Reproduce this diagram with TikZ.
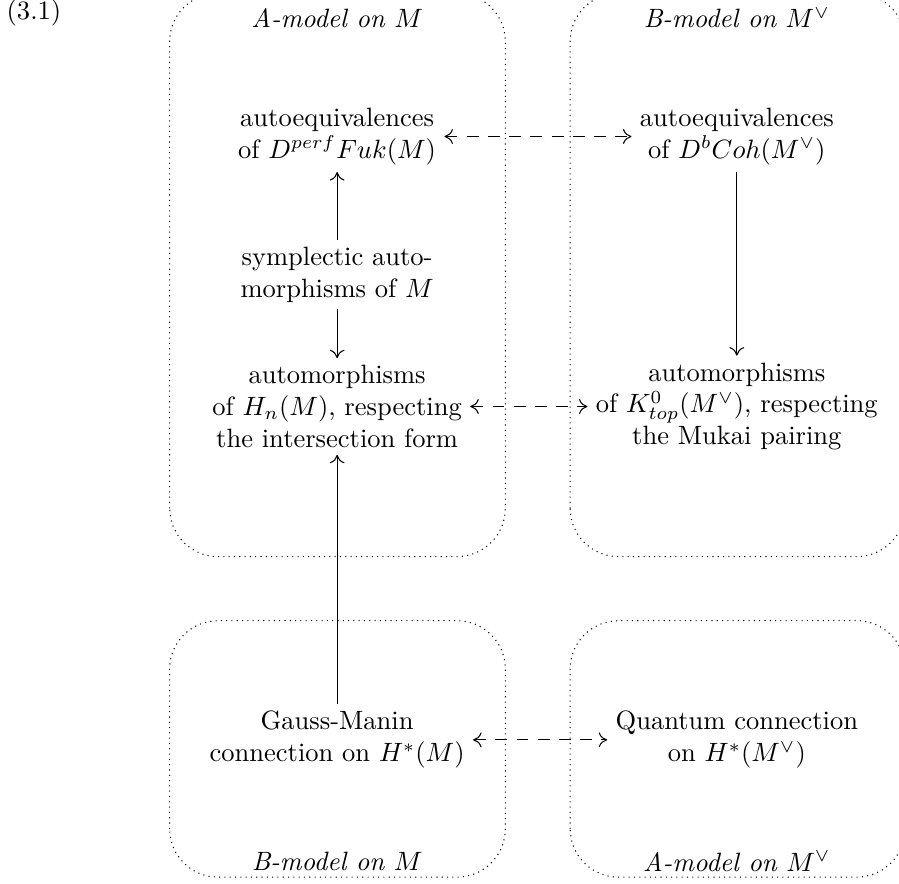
\documentclass[tikz,border=0pt]{standalone}
\usepackage{amsmath, amssymb}
\usetikzlibrary{arrows.meta}

\begin{document}
\begin{tikzpicture}[>={To[length=3.2pt,width=5.6pt]},
    item/.style={align=center, inner sep=2.5pt},
    model/.style={font=\itshape},
    region/.style={dash pattern=on 0.4pt off 1.6pt, rounded corners=0.64cm},
    dasharrow/.style={<->, dash pattern=on 4.5pt off 3.5pt, shorten <=0.5pt, shorten >=0.5pt}]
    \useasboundingbox (0,0) rectangle (11.92,11.72);

    % Equation number
    \node (eqno) at (0.45,11.55) {(3.1)};

    % Regions
    \draw[region] (2.25,4.34) rectangle (6.70,11.81);
    \draw[region] (7.56,4.34) rectangle (12.00,11.81);
    \draw[region] (2.25,0.09) rectangle (6.70,3.49);
    \draw[region] (7.56,0.09) rectangle (12.00,3.49);
    \node[model] (topA) at (4.47,11.48) {A-model on $M$};
    \node[model] (topB) at (9.77,11.48) {B-model on $M^\vee$};
    \node[model] (botB) at (4.47,0.30) {B-model on $M$};
    \node[model] (botA) at (9.77,0.30) {A-model on $M^\vee$};

    % Left column
    \node[item] (autA) at (4.47,9.91) {autoequivalences\\of $D^{perf}Fuk(M)$};
    \node[item] (symp) at (4.47,8.08) {symplectic auto-\\morphisms of $M$};
    \node[item] (autH) at (4.47,6.33) {automorphisms\\of $H_n(M)$, respecting\\the intersection form};
    \node[item] (gm) at (4.47,1.91) {Gauss-Manin\\connection on $H^*(M)$};

    % Right column
    \node[item] (autB) at (9.77,9.91) {autoequivalences\\of $D^bCoh(M^\vee)$};
    \node[item] (autK) at (9.77,6.33) {automorphisms\\of $K^0_{top}(M^\vee)$, respecting\\the Mukai pairing};
    \node[item] (qc) at (9.77,1.91) {Quantum connection\\on $H^*(M^\vee)$};

    % Maps
    \draw[->] (symp) -- (autA);
    \draw[->] (symp) -- (autH);
    \draw[->] (autB) -- (autK);
    \draw[->] (gm) -- (autH);
    \draw[dasharrow] (autA) -- (autB);
    \draw[dasharrow] (autH) -- (autK);
    \draw[dasharrow] (gm) -- (qc);
\end{tikzpicture}
\end{document}
